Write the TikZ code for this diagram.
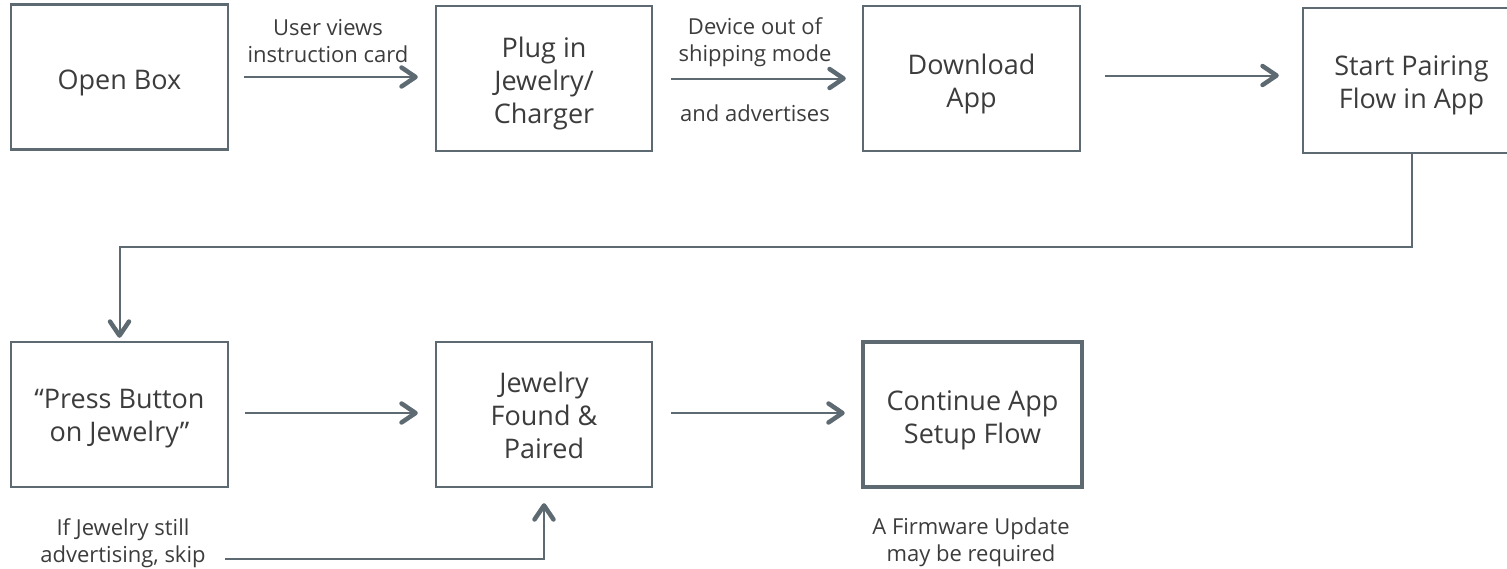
\documentclass[tikz,border=0pt]{standalone}
\usepackage{fontspec}
\setmainfont{Open Sans}
\usetikzlibrary{arrows.meta}
\definecolor{edge}{HTML}{5E6A72}
\definecolor{ink}{HTML}{3C3C3C}
\tikzset{
  stepbox/.style={draw=edge, line width=2.4pt, rectangle, inner sep=0pt,
    minimum width=217pt, minimum height=145pt},
  boxtext/.style={align=center, text=ink, inner sep=0pt,
    font=\fontsize{27pt}{33pt}\selectfont},
  lbl/.style={align=center, text=ink, inner sep=0pt, font=\fontsize{22pt}{27pt}\selectfont},
  arr/.style={draw=edge, line width=2pt,
    -{Straight Barb[length=14pt, width=19pt, line width=4.5pt, round]},
    shorten <=15pt, shorten >=17pt}
}
\begin{document}
\begin{tikzpicture}[x=1pt, y=-1pt]
\clip (0,0) rectangle (1507,568);
\node[stepbox] (open) at (119.5,77) {};
\node[stepbox, minimum width=216pt] (plug) at (544,78.5) {};
\node[stepbox] (down) at (971.5,78.5) {};
\node[stepbox] (start) at (1411.5,80.5) {};
\node[stepbox] (press) at (119.5,414.5) {};
\node[stepbox, minimum width=216pt] (found) at (544,414.5) {};
\node[stepbox, line width=4.5pt, minimum width=219pt] (cont) at (972.5,414.5) {};

\node[boxtext] (opent) at ([yshift=-6pt]open.center) {Open Box};
\node[boxtext] (plugt) at ([yshift=-4.5pt]plug.center) {Plug in\\Jewelry/\\Charger};
\node[boxtext] (downt) at ([yshift=-5.5pt]down.center) {Download\\App};
\node[boxtext] (startt) at ([yshift=-5pt]start.center) {Start Pairing\\Flow in App};
\node[boxtext] (presst) at ([yshift=-4.5pt]press.center) {“Press Button\\on Jewelry”};
\node[boxtext] (foundt) at ([yshift=-1pt]found.center) {Jewelry\\Found \&\\Paired};
\node[boxtext] (contt) at ([yshift=-5.5pt]cont.center) {Continue App\\Setup Flow};

\node[lbl] (l1) at (328,41) {User views\\instruction card};
\node[lbl] (l2) at (755,42) {Device out of\\shipping mode};
\node[lbl] (l3) at (755,113) {and advertises};
\node[lbl] (l4) at (123,543) {If Jewelry still\\advertising, skip};
\node[lbl] (l5) at (971,542) {A Firmware Update\\may be required};

\draw[arr] (open.east) -- (open.east -| plug.west);
\draw[arr, shorten <=18pt, shorten >=16pt] (plug.east) -- (plug.east -| down.west);
\draw[arr, shorten <=24pt, shorten >=23pt] ([yshift=3pt]down.east) -- ([yshift=3pt]down.east -| start.west);
\coordinate (turn) at (1411.5,247);
\draw[arr, shorten <=0pt, shorten >=3pt] (start.south) |- (turn -| press.north) -- (press.north);
\draw[arr, shorten <=16pt, shorten >=17pt] ([yshift=1.5pt]press.east) -- ([yshift=1.5pt]press.east -| found.west);
\draw[arr, shorten <=18pt, shorten >=16pt] ([yshift=1.5pt]found.east) -- ([yshift=1.5pt]found.east -| cont.west);
\coordinate (skip) at (225,558.5);
\draw[arr, shorten <=0pt, shorten >=15pt] (skip) -| (found.south);
\end{tikzpicture}
\end{document}
